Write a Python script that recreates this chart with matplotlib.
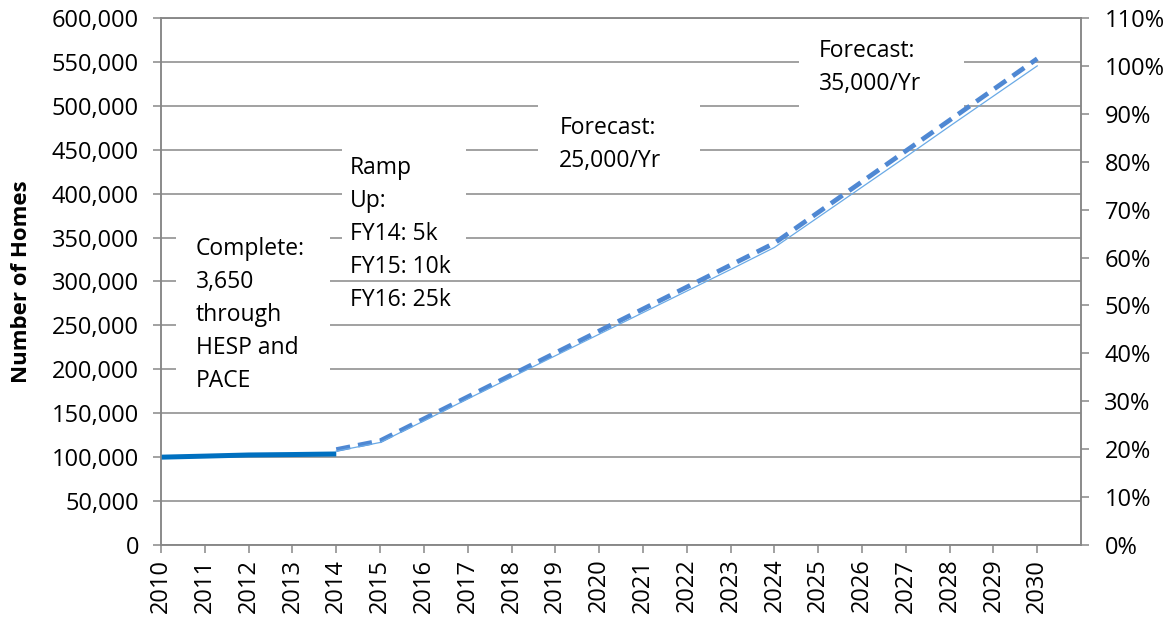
import matplotlib
matplotlib.use("Agg")
import matplotlib.pyplot as plt
from matplotlib.patches import Rectangle

plt.rcParams['font.family'] = ['Open Sans', 'DejaVu Sans']

# data
years_done = [2010, 2011, 2012, 2013, 2014]
homes_done = [100000, 101200, 102500, 103000, 103650]

years_fc = list(range(2014, 2031))
homes_fc = [108650, 118650, 143650, 168650, 193650, 218650, 243650, 268650,
            293650, 318650, 343650, 378650, 413650, 448650, 483650, 518650,
            553650]
pct_fc = [19.6, 21.4, 25.9, 30.5, 35.0, 39.5, 44.0, 48.5, 53.0, 57.5, 62.1,
          68.4, 74.7, 81.0, 87.4, 93.7, 100.0]

year_ticks = list(range(2010, 2031))
home_ticks = list(range(0, 600001, 50000))
pct_ticks = list(range(0, 111, 10))

# (text, text x, last-line baseline y, box x0, box y0, box x1, box y1)
notes = [
    ("Complete:\n3,650\nthrough\nHESP and\nPACE", 2010.80, 179900,
     2010.34, 165000, 2013.86, 364000),
    ("Ramp\nUp:\nFY14: 5k\nFY15: 10k\nFY16: 25k", 2014.31, 272100,
     2014.13, 322000, 2016.96, 478000),
    ("Forecast:\n25,000/Yr", 2019.09, 430400,
     2018.61, 415000, 2022.31, 518000),
    ("Forecast:\n35,000/Yr", 2025.02, 518000,
     2024.57, 484000, 2028.33, 588000),
]

grey = '#878787'

fig = plt.figure(figsize=(11.72, 6.18), dpi=100)
ax = fig.add_axes([0.1374, 0.1181, 0.785, 0.8528])
ax2 = ax.twinx()

ax.set_xlim(2010, 2031)
ax.set_ylim(0, 600000)
ax2.set_ylim(0, 110)

ax.set_axisbelow(True)
ax.grid(axis='y', color=grey, linewidth=1.1)
ax.grid(axis='x', visible=False)

for txt, tx, ty, x0, y0, x1, y1 in notes:
    ax.add_patch(Rectangle((x0, y0), x1 - x0, y1 - y0, facecolor='white',
                           edgecolor='none', zorder=1))
    ax.text(tx, ty, txt, fontsize=16.5, va='baseline', ha='left',
            linespacing=1.5, zorder=4)

ax.plot(years_done, homes_done, color='#0070C0', linewidth=3.6,
        solid_capstyle='butt', zorder=3)
ax.plot(years_fc, homes_fc, color='#4F88D3', linewidth=3.4,
        linestyle=(0, (3.0, 1.7)), dash_capstyle='butt', zorder=3)
ax2.plot(years_fc, pct_fc, color='#6AAAE6', linewidth=0.9, zorder=2)

ax.set_xticks(year_ticks)
ax.set_xticklabels([str(y) for y in year_ticks], rotation=90)
ax.set_yticks(home_ticks)
ax.set_yticklabels([f'{v:,}' for v in home_ticks])
ax2.set_yticks(pct_ticks)
ax2.set_yticklabels([f'{v}%' for v in pct_ticks])

for a in (ax, ax2):
    for s in a.spines.values():
        s.set_color(grey)
        s.set_linewidth(1.1)

ax.tick_params(axis='y', direction='out', length=5.8, width=1.1, color=grey,
               labelsize=17, pad=10)
ax.tick_params(axis='x', direction='out', length=5.8, width=1.1, color=grey,
               labelsize=17, pad=4)
ax2.tick_params(axis='y', direction='out', length=5.8, width=1.1, color=grey,
                labelsize=17, pad=11)

ax.set_ylabel('Number of Homes', fontsize=16, fontweight='bold')
ax.yaxis.set_label_coords(-0.140, 0.5)

fig.savefig('out.png', dpi=100)
